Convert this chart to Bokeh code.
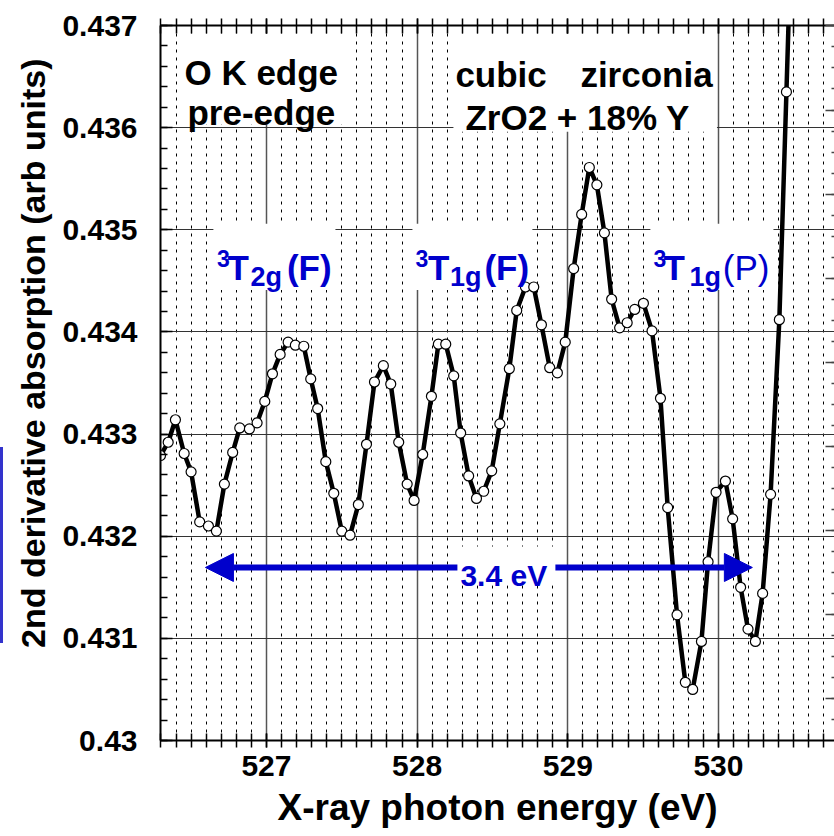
from bokeh.plotting import figure
from bokeh.layouts import row
from bokeh.models import (FixedTicker, LinearAxis, Range1d, Label, Arrow,
                          NormalHead, Title, Div)
from bokeh.embed import file_html
from bokeh.resources import INLINE

# O K-edge pre-edge region, second derivative of the absorption spectrum
energy_ev = [
    526.297, 526.348, 526.396, 526.454, 526.500, 526.557, 526.615, 526.668,
    526.721, 526.776, 526.823, 526.887, 526.938, 526.989, 527.040, 527.091,
    527.144, 527.192, 527.248, 527.294, 527.340, 527.394, 527.447, 527.500,
    527.555, 527.610, 527.664, 527.717, 527.776, 527.825, 527.878, 527.934,
    527.980, 528.037, 528.095, 528.141, 528.190, 528.243, 528.289, 528.342,
    528.394, 528.442, 528.495, 528.549, 528.612, 528.661, 528.719, 528.774,
    528.825, 528.880, 528.931, 528.983, 529.039, 529.092, 529.143, 529.193,
    529.243, 529.291, 529.344, 529.394, 529.444, 529.502, 529.559, 529.615,
    529.663, 529.725, 529.780, 529.829, 529.887, 529.931, 529.984, 530.046,
    530.094, 530.147, 530.196, 530.245, 530.293, 530.346, 530.404, 530.451,
    530.500,
]
d2_absorption = [
    0.43279, 0.43292, 0.43314, 0.43281, 0.43263, 0.43214, 0.43210, 0.43205,
    0.43251, 0.43282, 0.43306, 0.43305, 0.43311, 0.43332, 0.43359, 0.43378,
    0.43390, 0.43387, 0.43386, 0.43354, 0.43325, 0.43273, 0.43242, 0.43205,
    0.43201, 0.43231, 0.43290, 0.43351, 0.43367, 0.43349, 0.43292, 0.43251,
    0.43235, 0.43280, 0.43337, 0.43388, 0.43388, 0.43357, 0.43301, 0.43259,
    0.43237, 0.43244, 0.43264, 0.43310, 0.43364, 0.43421, 0.43444, 0.43444,
    0.43407, 0.43365, 0.43360, 0.43390, 0.43462, 0.43515, 0.43561, 0.43544,
    0.43497, 0.43432, 0.43404, 0.43409, 0.43422, 0.43428, 0.43401, 0.43335,
    0.43228, 0.43123, 0.43057, 0.43050, 0.43097, 0.43175, 0.43243, 0.43254,
    0.43217, 0.43150, 0.43109, 0.43097, 0.43144, 0.43241, 0.43412, 0.43635,
    0.43871,
]

x_major_ticks = [527, 528, 529, 530]
x_minor_ticks = [round(526.3 + 0.1 * i, 1) for i in range(45)]
y_major_ticks = [0.430, 0.431, 0.432, 0.433, 0.434, 0.435, 0.436, 0.437]
y_tick_labels = ["0.43", "0.431", "0.432", "0.433", "0.434", "0.435", "0.436", "0.437"]
y_minor_ticks = [round(0.430 + 0.0002 * i, 4) for i in range(36)]

FONT = "Liberation Sans"
BLUE = "#0000cc"

p = figure(width=831, height=836,
           x_range=Range1d(526.297, 530.77), y_range=Range1d(0.430, 0.437),
           output_backend="svg", toolbar_location=None,
           min_border_left=157, min_border_right=0,
           min_border_top=25, min_border_bottom=96,
           x_axis_label="X-ray photon energy (eV)")
p.outline_line_color = None
p.background_fill_color = "white"

xt = FixedTicker(ticks=x_major_ticks, minor_ticks=x_minor_ticks)
yt = FixedTicker(ticks=y_major_ticks, minor_ticks=y_minor_ticks)

# grids: solid at whole eV / 0.001, dashed every 0.1 eV
p.xgrid.ticker = xt
p.ygrid.ticker = yt
p.xgrid.grid_line_color = "#555555"
p.xgrid.grid_line_width = 1.5
p.xgrid.minor_grid_line_color = "black"
p.xgrid.minor_grid_line_width = 1
p.xgrid.minor_grid_line_dash = "3 5"
p.ygrid.grid_line_color = "#333333"
p.ygrid.grid_line_width = 1

# bottom axis
xa = p.xaxis[0]
xa.ticker = xt
xa.axis_line_width = 2
xa.major_tick_in = 7
xa.major_tick_out = 7
xa.minor_tick_in = 7
xa.minor_tick_out = 7
xa.major_tick_line_width = 1.5
xa.minor_tick_line_width = 1.5
xa.major_label_standoff = 8
xa.major_label_text_font = FONT
xa.major_label_text_font_style = "bold"
xa.major_label_text_font_size = "30px"
xa.major_label_text_color = "black"
xa.axis_label_standoff = 8
xa.axis_label_text_font = FONT
xa.axis_label_text_font_style = "bold"
xa.axis_label_text_font_size = "37px"
xa.axis_label_text_color = "black"

# left axis
ya = p.yaxis[0]
ya.ticker = yt
ya.major_label_overrides = dict(zip(y_major_ticks, y_tick_labels))
ya.axis_line_width = 2
ya.major_tick_in = 12
ya.major_tick_out = 0
ya.minor_tick_in = 7
ya.minor_tick_out = 0
ya.major_tick_line_width = 1.5
ya.minor_tick_line_width = 1.5
ya.major_label_standoff = 23
ya.major_label_text_font = FONT
ya.major_label_text_font_style = "bold"
ya.major_label_text_font_size = "30px"
ya.major_label_text_color = "black"

# vertical quantity label, its upper end a little below the frame top
p.add_layout(Title(text="2nd derivative absorption (arb units)", align="right",
                   offset=33, standoff=15, text_font=FONT, text_font_style="bold",
                   text_font_size="34px", text_color="black"), "left")

# top axis: ticks only
top = LinearAxis(ticker=xt, axis_line_width=2,
                 major_tick_in=8, major_tick_out=7,
                 minor_tick_in=8, minor_tick_out=7,
                 major_tick_line_width=1.5, minor_tick_line_width=1.5,
                 major_label_text_font_size="1px", major_label_text_color=None,
                 major_label_standoff=0)
p.add_layout(top, "above")

# right axis: its own tick spacing, inward ticks only
p.extra_y_ranges = {"right": Range1d(-0.497, 8.005)}
right = LinearAxis(y_range_name="right",
                   ticker=FixedTicker(ticks=list(range(0, 9)),
                                      minor_ticks=[k * 0.25 for k in range(-2, 33)]),
                   axis_line_color=None,
                   major_tick_in=9, major_tick_out=0,
                   minor_tick_in=3, minor_tick_out=0,
                   major_tick_line_width=1.5, minor_tick_line_width=1.5,
                   major_tick_line_color="#444444", minor_tick_line_color="#444444",
                   major_label_text_font_size="1px", major_label_text_color=None,
                   major_label_standoff=0)
p.add_layout(right, "right")

# white panels behind the annotation texts
panel_left = [526.449, 528.241, 526.648, 527.969, 529.548]
panel_right = [527.537, 529.990, 527.458, 528.765, 530.365]
panel_top = [0.43692, 0.43692, 0.43506, 0.43506, 0.43506]
panel_bottom = [0.43603, 0.43596, 0.43441, 0.43441, 0.43441]
p.quad(left=panel_left, right=panel_right, top=panel_top, bottom=panel_bottom,
       fill_color="white", line_color=None)
# panel behind the "3.4 eV" text
p.quad(left=[528.2674], right=[528.9177], top=[0.43190], bottom=[0.43152],
       fill_color="white", line_color=None)

# spectrum
p.line(energy_ev, d2_absorption, line_color="black", line_width=4.5,
       line_join="round")
p.scatter(energy_ev, d2_absorption, marker="circle", size=10,
          fill_color="white", line_color="black", line_width=1.2)


def add_text(x, y, text, size, color="black", style="bold"):
    p.add_layout(Label(x=x, y=y, text=text, text_font=FONT,
                       text_font_size=size, text_font_style=style,
                       text_color=color, text_align="left",
                       text_baseline="alphabetic"))


add_text(526.4559, 0.43654, "O K edge", "35px")
add_text(526.4758, 0.43615, "pre-edge", "35px")
add_text(528.2541, 0.43652, "cubic", "35px")
add_text(529.0836, 0.43652, "zirconia", "35px")
add_text(528.3205, 0.43610, "ZrO2 + 18% Y", "35px")

# term symbols: superscript multiplicity, T, subscript symmetry, parent term
MAIN_Y, SUP_Y, SUB_Y = 0.434634, 0.434716, 0.434536
terms = [
    (526.6715, 526.7412, 526.8940, 527.1360, "2g", "(F)", "bold"),
    (527.9887, 528.0717, 528.2180, 528.4466, "1g", "(F)", "bold"),
    (529.5680, 529.6344, 529.8070, 530.0292, "1g", "(P)", "normal"),
]
for x_sup, x_t, x_sub, x_par, sub, parent, pstyle in terms:
    add_text(x_sup, SUP_Y, "3", "23px", BLUE)
    add_text(x_t, MAIN_Y, "T", "35px", BLUE)
    add_text(x_sub, SUB_Y, sub, "27px", BLUE)
    add_text(x_par, MAIN_Y, parent, "35px", BLUE, pstyle)

# 3.4 eV span arrow
ARROW_Y = 0.431694
p.add_layout(Arrow(x_start=528.2674, y_start=ARROW_Y, x_end=526.5952, y_end=ARROW_Y,
                   line_color=BLUE, line_width=6,
                   end=NormalHead(size=28, fill_color=BLUE, line_color=BLUE)))
p.add_layout(Arrow(x_start=528.9177, y_start=ARROW_Y, x_end=530.2249, y_end=ARROW_Y,
                   line_color=BLUE, line_width=6,
                   end=NormalHead(size=28, fill_color=BLUE, line_color=BLUE)))
add_text(528.2873, 0.431615, "3.4 eV", "30px", BLUE)

# thin blue marker bar at the far left edge of the page
bar = Div(text='<div style="margin-top:447px;width:3px;height:196px;'
               'background:#3333cc"></div>',
          width=3, height=836, margin=0)

layout = row(bar, p, spacing=0)
open("out.html", "w").write(file_html(layout, INLINE))
